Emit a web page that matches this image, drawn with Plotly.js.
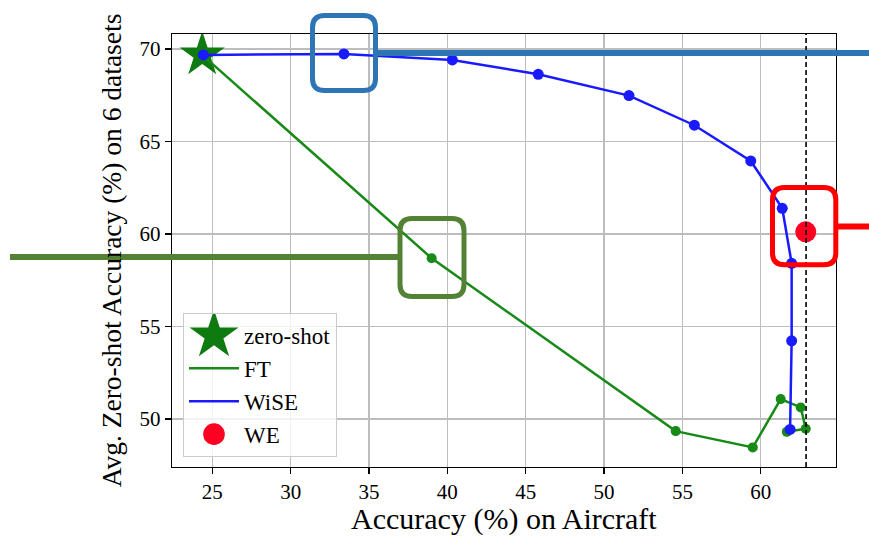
<!DOCTYPE html>
<html>
<head>
<meta charset="utf-8">
<script src="https://cdn.plot.ly/plotly-3.0.1.min.js"></script>
<style>html,body{margin:0;padding:0;background:#fff;}#chart{width:869px;height:538px;}</style>
</head>
<body>
<div id="chart"></div>
<script>
// ---- data ----
const zeroShotX = [24.36];
const zeroShotY = [69.68];
const ftX = [24.36, 39.0, 54.57, 59.49, 61.27, 62.55, 62.87, 61.66];
const ftY = [69.68, 58.69, 49.35, 48.47, 51.08, 50.63, 49.48, 49.31];
const wiseX = [24.43, 33.40, 40.32, 45.80, 51.59, 55.76, 59.36, 61.37, 61.97, 61.97, 61.87];
const wiseY = [69.68, 69.73, 69.41, 68.63, 67.48, 65.88, 63.95, 61.39, 58.42, 54.23, 49.44];
const weX = [62.87];
const weY = [60.12];
const bestFtX = 62.89;
const xTicks = [25, 30, 35, 40, 45, 50, 55, 60];
const yTicks = [50, 55, 60, 65, 70];
const xTitle = 'Accuracy (%) on Aircraft';
const yTitle = 'Avg. Zero-shot Accuracy (%) on 6 datasets';

// ---- layout geometry (pixels) ----
const W = 869, H = 538;
const M = {l: 172, r: 33, t: 34, b: 71};
const PW = W - M.l - M.r, PH = H - M.t - M.b;
const px = v => (v - M.l) / PW;
const py = v => (H - M.b - v) / PH;

function roundRect(x0, y0, x1, y1, r) {
  const X0 = px(x0), X1 = px(x1), Y0 = py(y0), Y1 = py(y1);
  const rx = r / PW, ry = r / PH;
  return `M${X0 + rx},${Y0} L${X1 - rx},${Y0} Q${X1},${Y0} ${X1},${Y0 - ry} ` +
         `L${X1},${Y1 + ry} Q${X1},${Y1} ${X1 - rx},${Y1} L${X0 + rx},${Y1} ` +
         `Q${X0},${Y1} ${X0},${Y1 + ry} L${X0},${Y0 - ry} Q${X0},${Y0} ${X0 + rx},${Y0} Z`;
}

const serif = '"Liberation Serif", "Times New Roman", Times, serif';

const traces = [
  {x: zeroShotX, y: zeroShotY, mode: 'markers', name: 'zero-shot',
   marker: {symbol: 'star', size: 34, color: '#0f7a0f'}},
  {x: ftX, y: ftY, mode: 'lines', name: 'FT', line: {color: '#178a17', width: 2.5}},
  {x: ftX.slice(1), y: ftY.slice(1), mode: 'markers', name: 'FT', showlegend: false,
   marker: {size: 10, color: '#178a17'}},
  {x: wiseX, y: wiseY, mode: 'lines', name: 'WiSE', line: {color: '#1a1aff', width: 2.5}},
  {x: wiseX, y: wiseY, mode: 'markers', name: 'WiSE', showlegend: false,
   marker: {size: 11, color: '#1a1aff'}},
  {x: weX, y: weY, mode: 'markers', name: 'WE', marker: {size: 21, color: '#ff0022'}}
];

const axisCommon = {
  showline: true, mirror: true, linecolor: '#000', linewidth: 1.2,
  ticks: 'outside', ticklen: 6, tickwidth: 1.2, tickcolor: '#000',
  showgrid: true, gridcolor: '#bdbdbd', gridwidth: 1.3, zeroline: false,
  tickfont: {family: serif, size: 21, color: '#000'}
};

const layout = {
  width: W, height: H,
  margin: M,
  paper_bgcolor: '#fff', plot_bgcolor: '#fff',
  showlegend: true,
  xaxis: Object.assign({}, axisCommon, {
    range: [22.43, 64.80], tickvals: xTicks, ticktext: xTicks.map(String)
  }),
  yaxis: Object.assign({}, axisCommon, {
    range: [47.41, 70.81], tickvals: yTicks, ticktext: yTicks.map(String),
    title: {text: yTitle, font: {family: serif, size: 27.5, color: '#000'}, standoff: 10}
  }),
  annotations: [
    {text: xTitle, xref: 'paper', yref: 'paper', x: 0.5, y: py(519),
     xanchor: 'center', yanchor: 'middle', showarrow: false,
     font: {family: serif, size: 30, color: '#000'}}
  ],
  legend: {
    x: px(183), y: py(313), xanchor: 'left', yanchor: 'top',
    bgcolor: 'rgba(255,255,255,0.8)', bordercolor: '#cccccc', borderwidth: 1,
    font: {family: serif, size: 23, color: '#000'}, itemwidth: 50
  },
  shapes: [
    {type: 'line', xref: 'x', yref: 'paper', x0: bestFtX, x1: bestFtX, y0: 0, y1: 1,
     line: {color: '#000', width: 1.6, dash: '5px,3px'}, layer: 'above'},
    // blue box + line
    {type: 'path', xref: 'paper', yref: 'paper', path: roundRect(312.5, 15.5, 375.5, 90.5, 12),
     line: {color: '#2e75b6', width: 5}, layer: 'above'},
    {type: 'line', xref: 'paper', yref: 'paper', x0: px(375.5), x1: px(870), y0: py(53), y1: py(53),
     line: {color: '#2e75b6', width: 6}, layer: 'above'},
    // green box + line
    {type: 'path', xref: 'paper', yref: 'paper', path: roundRect(400, 218.5, 464, 296.5, 12),
     line: {color: '#548235', width: 5}, layer: 'above'},
    {type: 'line', xref: 'paper', yref: 'paper', x0: px(10), x1: px(400), y0: py(257), y1: py(257),
     line: {color: '#548235', width: 6}, layer: 'above'},
    // red box + line
    {type: 'path', xref: 'paper', yref: 'paper', path: roundRect(772.5, 187.5, 835.8, 264.8, 12),
     line: {color: '#ff0000', width: 5}, layer: 'above'},
    {type: 'line', xref: 'paper', yref: 'paper', x0: px(835.8), x1: px(870), y0: py(226.5), y1: py(226.5),
     line: {color: '#ff0000', width: 6}, layer: 'above'}
  ]
};

Plotly.newPlot('chart', traces, layout, {staticPlot: true, displayModeBar: false}).then(gd => {
  // enlarge legend marker symbols (Plotly caps them) to match the reference
  const groups = Array.from(gd.querySelectorAll('.legend .traces'));
  gd.querySelectorAll('.legend .traces .legendpoints path.scatterpts').forEach(p => {
    const t = p.getAttribute('transform') || '';
    const idx = groups.findIndex(tr => tr.contains(p));
    const s = idx === 0 ? 2.3 : 1.35;
    p.setAttribute('transform', t + ' scale(' + s + ')');
  });
});
</script>
</body>
</html>
